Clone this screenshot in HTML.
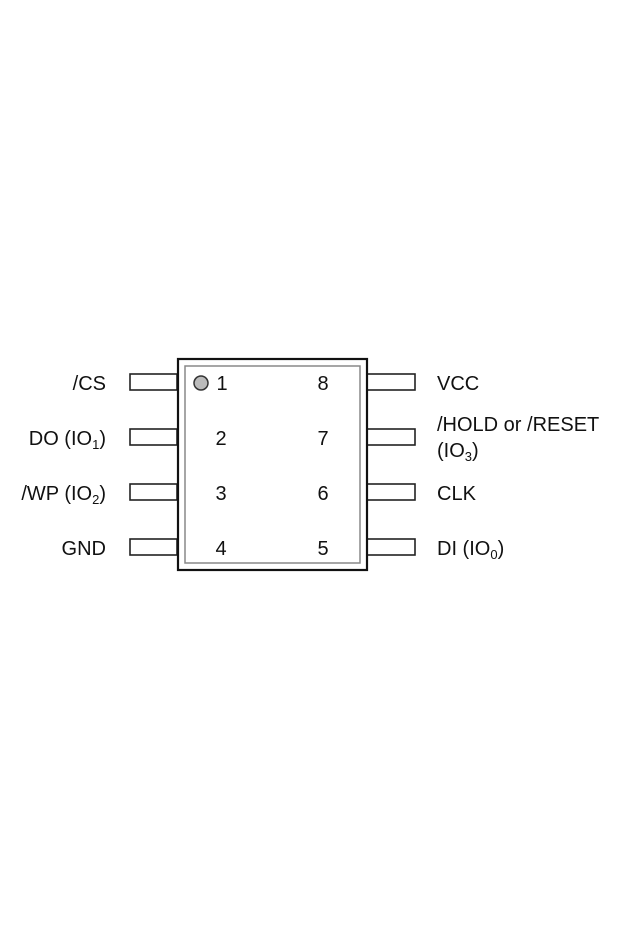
<!DOCTYPE html>
<html><head><style>
body{margin:0;width:621px;height:931px;background:#fff;overflow:hidden}
svg text{font-family:"Liberation Sans",Arial,sans-serif;font-size:20px;fill:#111}
</style></head><body>
<svg width="621" height="931" xmlns="http://www.w3.org/2000/svg">
<g fill="#fff" stroke="#222" stroke-width="1.6">
<rect x="130" y="374" width="47" height="16"/>
<rect x="130" y="429" width="47" height="16"/>
<rect x="130" y="484" width="47" height="16"/>
<rect x="130" y="539" width="47" height="16"/>
<rect x="367" y="374" width="48" height="16"/>
<rect x="367" y="429" width="48" height="16"/>
<rect x="367" y="484" width="48" height="16"/>
<rect x="367" y="539" width="48" height="16"/>
</g>
<rect x="178" y="359" width="189" height="211" fill="#fff" stroke="#111" stroke-width="2.2"/>
<rect x="185" y="366" width="175" height="197" fill="none" stroke="#888" stroke-width="1.5"/>
<circle cx="201" cy="383" r="7" fill="#bbb" stroke="#333" stroke-width="1.5"/>
<g text-anchor="middle">
<text x="222" y="390">1</text><text x="221" y="445">2</text><text x="221" y="500">3</text><text x="221" y="555">4</text>
<text x="323" y="390">8</text><text x="323" y="445">7</text><text x="323" y="500">6</text><text x="323" y="555">5</text>
</g>
<g text-anchor="end">
<text x="106" y="390">/CS</text>
<text x="106" y="445">DO (IO<tspan font-size="13" dy="4">1</tspan><tspan dy="-4">)</tspan></text>
<text x="106" y="500">/WP (IO<tspan font-size="13" dy="4">2</tspan><tspan dy="-4">)</tspan></text>
<text x="106" y="555">GND</text>
</g>
<text x="437" y="390">VCC</text>
<text x="437" y="431">/HOLD or /RESET</text>
<text x="437" y="457">(IO<tspan font-size="13" dy="4">3</tspan><tspan dy="-4">)</tspan></text>
<text x="437" y="500">CLK</text>
<text x="437" y="555">DI (IO<tspan font-size="13" dy="4">0</tspan><tspan dy="-4">)</tspan></text>
</svg>
</body></html>
